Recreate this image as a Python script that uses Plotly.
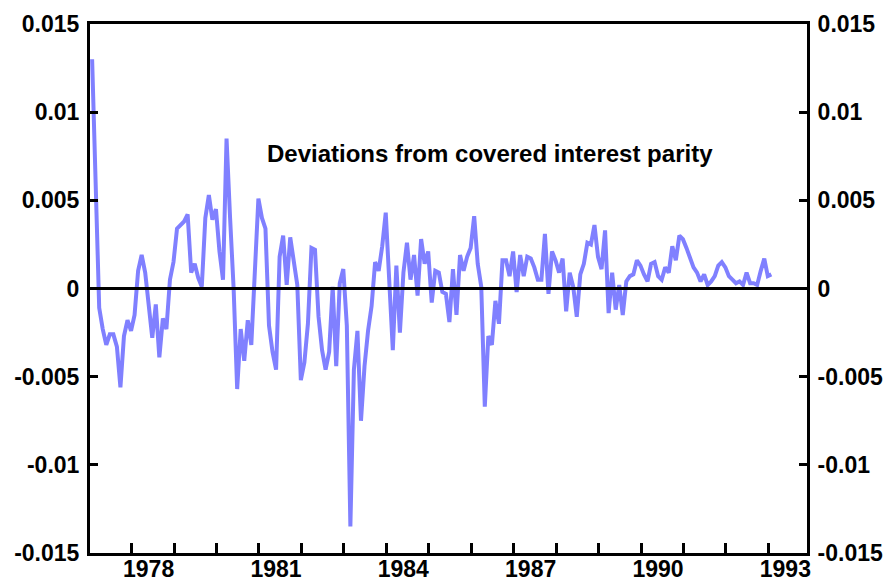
import plotly.graph_objects as go

# monthly deviations, Jan 1977 .. Jan 1993
start_year = 1977.07
deviation = [
    0.0130, 0.0055, -0.0011, -0.0023, -0.0032, -0.0026, -0.0026, -0.0033, -0.0056, -0.0027, -0.0018, -0.0024,
    -0.0015, 0.0010, 0.0019, 0.0009, -0.0010, -0.0028, -0.0009, -0.0039, -0.0017, -0.0023, 0.0005, 0.0015,
    0.0034, 0.0036, 0.0038, 0.0042, 0.0009, 0.0014, 0.0006, 0.0001, 0.0040, 0.0053, 0.0039, 0.0045,
    0.0021, 0.0005, 0.0085, 0.0040, 0.0000, -0.0057, -0.0023, -0.0041, -0.0018, -0.0032, 0.0009, 0.0051,
    0.0040, 0.0034, -0.0021, -0.0036, -0.0046, 0.0018, 0.0030, 0.0002, 0.0029, 0.0015, 0.0002, -0.0052,
    -0.0042, -0.0020, 0.0023, 0.0022, -0.0016, -0.0035, -0.0046, -0.0036, 0.0001, -0.0044, 0.0003, 0.0011,
    -0.0021, -0.0135, -0.0046, -0.0024, -0.0075, -0.0044, -0.0024, -0.0010, 0.0015, 0.0010, 0.0024, 0.0043,
    -0.0002, -0.0035, 0.0013, -0.0025, 0.0009, 0.0026, 0.0005, 0.0019, -0.0004, 0.0028, 0.0014, 0.0021,
    -0.0008, 0.0010, 0.0009, -0.0002, -0.0003, -0.0019, 0.0011, -0.0015, 0.0019, 0.0010, 0.0018, 0.0023,
    0.0041, 0.0014, 0.0001, -0.0067, -0.0027, -0.0032, -0.0007, -0.0020, 0.0016, 0.0016, 0.0007, 0.0021,
    -0.0002, 0.0019, 0.0007, 0.0018, 0.0017, 0.0012, 0.0005, 0.0005, 0.0031, -0.0003, 0.0021, 0.0016,
    0.0009, 0.0017, -0.0013, 0.0009, 0.0001, -0.0016, 0.0008, 0.0014, 0.0026, 0.0025, 0.0036, 0.0018,
    0.0011, 0.0033, -0.0014, 0.0009, -0.0012, 0.0002, -0.0015, 0.0004, 0.0007, 0.0008, 0.0016, 0.0013,
    0.0008, 0.0004, 0.0014, 0.0015, 0.0007, 0.0005, 0.0012, 0.0009, 0.0024, 0.0016, 0.0030, 0.0028,
    0.0023, 0.0018, 0.0012, 0.0009, 0.0004, 0.0008, 0.0002, 0.0004, 0.0007, 0.0013, 0.0015, 0.0012,
    0.0007, 0.0005, 0.0003, 0.0004, 0.0002, 0.0009, 0.0003, 0.0003, 0.0002, 0.0010, 0.0017, 0.0007,
    0.0008,
]
dates = [start_year + i / 12 for i in range(len(deviation))]

year_ticks = list(range(1978, 1994))
year_labels = [str(y) if (y - 1978) % 3 == 0 else "" for y in year_ticks]
y_ticks = [-0.015, -0.01, -0.005, 0, 0.005, 0.01, 0.015]
y_labels = ["-0.015", "-0.01", "-0.005", "0", "0.005", "0.01", "0.015"]

font = dict(family="Arial, Liberation Sans, sans-serif", size=23, color="black", weight="bold")

fig = go.Figure()
fig.add_trace(go.Scatter(x=dates, y=deviation, mode="lines",
                         line=dict(color="#8080ff", width=4), showlegend=False))
# invisible trace so the right-hand axis gets drawn
fig.add_trace(go.Scatter(x=[dates[0]], y=[0], yaxis="y2", mode="lines",
                         line=dict(width=0), showlegend=False, hoverinfo="skip"))
fig.add_hline(y=0, line_color="black", line_width=3, layer="above")

fig.add_annotation(text="Deviations from covered interest parity", x=0.558, y=0.756,
                   xref="paper", yref="paper", xanchor="center", yanchor="middle",
                   showarrow=False, font=dict(font, size=24))

yax = dict(range=[-0.015, 0.015], tickvals=y_ticks, ticktext=y_labels, ticks="inside",
           ticklen=8, tickwidth=3, tickcolor="black", showgrid=False, zeroline=False,
           showline=True, linecolor="black", linewidth=3, tickfont=font,
           automargin=False, ticklabelstandoff=3)

fig.update_layout(
    width=888, height=582,
    margin=dict(l=90, r=81, t=24, b=29),
    paper_bgcolor="white", plot_bgcolor="white",
    font=font,
    xaxis=dict(range=[1977.02, 1993.91], tickvals=year_ticks, ticktext=year_labels,
               ticks="inside", ticklen=10, tickwidth=3, tickcolor="black",
               showgrid=False, zeroline=False, showline=True, mirror=True,
               linecolor="black", linewidth=3, tickfont=font, ticklabelshift=17,
               ticklabelstandoff=-7, automargin=False),
    yaxis=dict(**yax, side="left"),
    yaxis2=dict(**yax, side="right", overlaying="y", anchor="x"),
)

# drop the default page margin so the figure fills the window exactly
fig.write_html("out.html", config={"displayModeBar": False},
               post_script="document.body.style.margin = '0';")
